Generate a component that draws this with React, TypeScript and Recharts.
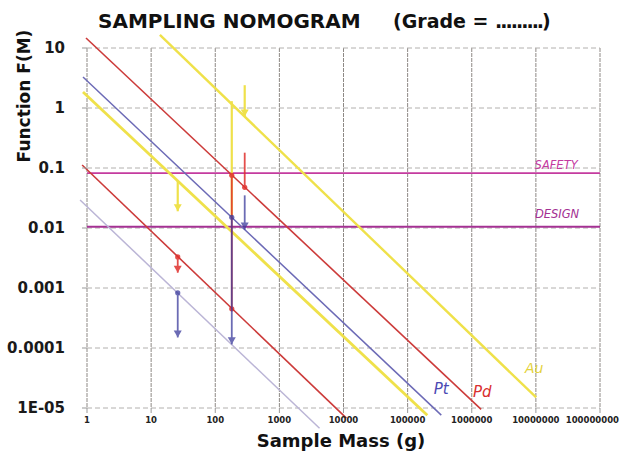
import React from 'react';
import { LineChart, XAxis, YAxis, CartesianGrid, ReferenceLine, ReferenceDot } from 'recharts';

// Axis ticks
const massTicks = [1, 10, 100, 1000, 10000, 100000, 1000000, 10000000, 100000000];
const massTickLabels = ['1', '10', '100', '1000', '10000', '100000', '1000000', '10000000', '100000000'];
const fTicks = [0.00001, 0.0001, 0.001, 0.01, 0.1, 1, 10];
const fTickLabels = ['1E-05', '0.0001', '0.001', '0.01', '0.1', '1', '10'];

// Nomogram lines (straight in log-log space): start / end points
const lineNames = ['Pd upper', 'Pd lower', 'Pt upper', 'Pt lower', 'Au upper', 'Au lower'];
const lineStartMass = [0.965, 0.84, 0.866, 0.78, 13.7, 0.866];
const lineStartF = [14.7, 0.112, 3.29, 0.0293, 16.5, 1.85];
const lineEndMass = [1400000, 11100, 335000, 4230, 10100000, 203000];
const lineEndF = [0.0000095, 0.0000068, 0.0000076, 0.0000046, 0.000015, 0.0000076];

// Limits
const safetyF = 0.082;
const designF = 0.0105;

// Reduction steps (vertical arrows)
const stepMass = [26, 181, 288];
const auFrom = [0.061, 1.3, 2.4];
const auTo = [0.019, 0.0151, 0.72];
const pdFrom = [0.0033, 0.0757, 0.18];
const pdTo = [0.0018, 0.00045, 0.0476];
const ptFrom = [0.00083, 0.0151, 0.035];
const ptTo = [0.00015, 0.000115, 0.0094];

// Hand-written annotations
const noteText = ['SAFETY', 'DESIGN', 'Pt', 'Pd', 'Au'];
const noteMass = [20700000, 21400000, 335000, 1460000, 9400000];
const noteF = [0.112, 0.017, 0.0000207, 0.000019, 0.000046];

const RED = '#cc3b3a';
const PT_DARK = '#6c6ab6';
const PT_LIGHT = '#bbb5d6';
const YELLOW = '#efe14a';
const MAGENTA = '#c43b9f';
const DESIGN_C = '#a43193';

const lineColors = [RED, RED, PT_DARK, PT_LIGHT, YELLOW, YELLOW];
const lineWidths = [1.6, 1.6, 1.5, 1.5, 2.4, 2.8];
const noteColors = [MAGENTA, DESIGN_C, '#4b49b3', '#d92f2f', '#e4d23c'];
const noteSizes = [11.5, 11.5, 15, 15, 14];

const FONT = '"DejaVu Sans", "Liberation Sans", Arial, sans-serif';

type Kind = 'none' | 'dot' | 'arrow';

const makeArrow = (color: string, start: Kind, end: Kind, width: number, opacity: number) => (props: any) => {
  const { x1, y1, x2, y2 } = props;
  return (
    <g opacity={opacity}>
      <line x1={x1} y1={y1} x2={x2} y2={y2} stroke={color} strokeWidth={width} />
      {start === 'dot' && <circle cx={x1} cy={y1} r={2.6} fill={color} />}
      {end === 'dot' && <circle cx={x2} cy={y2} r={2.6} fill={color} />}
      {end === 'arrow' && (
        <polygon points={`${x2 - 4},${y2 - 7} ${x2 + 4},${y2 - 7} ${x2},${y2}`} fill={color} />
      )}
    </g>
  );
};

const auKinds: [Kind, Kind][] = [['none', 'arrow'], ['none', 'none'], ['none', 'arrow']];
const pdKinds: [Kind, Kind][] = [['dot', 'arrow'], ['dot', 'dot'], ['none', 'dot']];
const ptKinds: [Kind, Kind][] = [['dot', 'arrow'], ['dot', 'arrow'], ['none', 'arrow']];

const XTick = (props: any) => {
  const { x, y, payload } = props;
  const idx = massTicks.indexOf(payload.value);
  const last = idx === massTicks.length - 1;
  return (
    <text
      x={last ? x + 19 : x}
      y={y}
      dy="0.71em"
      textAnchor={last ? 'end' : 'middle'}
      fontSize={8.5}
      fontWeight={700}
      fill="#222"
      fontFamily={FONT}
    >
      {massTickLabels[idx] ?? String(payload.value)}
    </text>
  );
};

export default function App() {
  return (
    <div style={{ position: 'absolute', left: 0, top: 0, width: 621, height: 453, background: '#fff' }}>
      <LineChart width={621} height={453} margin={{ top: 48, right: 21, bottom: 15, left: 0 }}>
        <CartesianGrid horizontal={false} stroke="#8e8985" strokeDasharray="4 1" />
        <CartesianGrid vertical={false} stroke="#b2b0ae" strokeDasharray="5 3" />
        <XAxis
          type="number"
          dataKey="m"
          scale="log"
          domain={[1, 100000000]}
          allowDataOverflow
          ticks={massTicks}
          interval={0}
          height={30}
          tickSize={5}
          tickMargin={4}
          axisLine={false}
          tickLine={{ stroke: '#999' }}
          tick={<XTick />}
        />
        <YAxis
          type="number"
          scale="log"
          domain={[0.00001, 10]}
          allowDataOverflow
          ticks={fTicks}
          interval={0}
          width={87}
          tickSize={5}
          tickMargin={17}
          axisLine={false}
          tickLine={{ stroke: '#999' }}
          tickFormatter={(v: number) => fTickLabels[fTicks.indexOf(v)] ?? String(v)}
          tick={{ fontSize: 15, fontWeight: 700, fill: '#1a1a1a', fontFamily: FONT }}
        />

        <ReferenceLine y={safetyF} stroke={MAGENTA} strokeWidth={1.8} ifOverflow="visible" />
        <ReferenceLine y={designF} stroke={DESIGN_C} strokeWidth={1.8} ifOverflow="visible" />

        {lineNames.map((name, i) => (
          <ReferenceLine
            key={name}
            ifOverflow="visible"
            segment={[
              { x: lineStartMass[i], y: lineStartF[i] },
              { x: lineEndMass[i], y: lineEndF[i] },
            ]}
            stroke={lineColors[i]}
            strokeWidth={lineWidths[i]}
          />
        ))}

        {stepMass.map((m, i) => (
          <ReferenceLine
            key={'au' + i}
            ifOverflow="visible"
            segment={[{ x: m, y: auFrom[i] }, { x: m, y: auTo[i] }]}
            shape={makeArrow(YELLOW, auKinds[i][0], auKinds[i][1], 2.2, 1)}
          />
        ))}
        {stepMass.map((m, i) => (
          <ReferenceLine
            key={'pd' + i}
            ifOverflow="visible"
            segment={[{ x: m, y: pdFrom[i] }, { x: m, y: pdTo[i] }]}
            shape={makeArrow('#e0302c', pdKinds[i][0], pdKinds[i][1], 1.8, 0.85)}
          />
        ))}
        {stepMass.map((m, i) => (
          <ReferenceLine
            key={'pt' + i}
            ifOverflow="visible"
            segment={[{ x: m, y: ptFrom[i] }, { x: m, y: ptTo[i] }]}
            shape={makeArrow('#3a3a9c', ptKinds[i][0], ptKinds[i][1], 1.8, 0.75)}
          />
        ))}

        {noteText.map((t, i) => (
          <ReferenceDot
            key={t}
            x={noteMass[i]}
            y={noteF[i]}
            r={0}
            fill="none"
            stroke="none"
            ifOverflow="visible"
            label={{
              value: t,
              position: 'center',
              fill: noteColors[i],
              fontSize: noteSizes[i],
              fontStyle: 'italic',
              fontFamily: FONT,
            }}
          />
        ))}
      </LineChart>

      <div
        style={{
          position: 'absolute',
          left: 98,
          top: 9,
          fontFamily: FONT,
          fontWeight: 700,
          fontSize: 20,
          lineHeight: '24px',
          color: '#111',
          whiteSpace: 'nowrap',
        }}
      >
        SAMPLING NOMOGRAM
      </div>
      <div
        style={{
          position: 'absolute',
          left: 393,
          top: 9,
          fontFamily: FONT,
          fontWeight: 700,
          fontSize: 19,
          lineHeight: '24px',
          color: '#111',
          whiteSpace: 'nowrap',
        }}
      >
        (Grade = <span style={{ letterSpacing: '-2px' }}>.........</span>)
      </div>
      <div
        style={{
          position: 'absolute',
          left: 24,
          top: 96,
          transform: 'translate(-50%, -50%) rotate(-90deg)',
          fontFamily: FONT,
          fontWeight: 700,
          fontSize: 17,
          lineHeight: '20px',
          color: '#111',
          whiteSpace: 'nowrap',
        }}
      >
        Function F(M)
      </div>
      <div
        style={{
          position: 'absolute',
          left: 341,
          top: 441,
          transform: 'translate(-50%, -50%)',
          fontFamily: FONT,
          fontWeight: 700,
          fontSize: 18,
          lineHeight: '22px',
          color: '#111',
          whiteSpace: 'nowrap',
        }}
      >
        Sample Mass (g)
      </div>
    </div>
  );
}
